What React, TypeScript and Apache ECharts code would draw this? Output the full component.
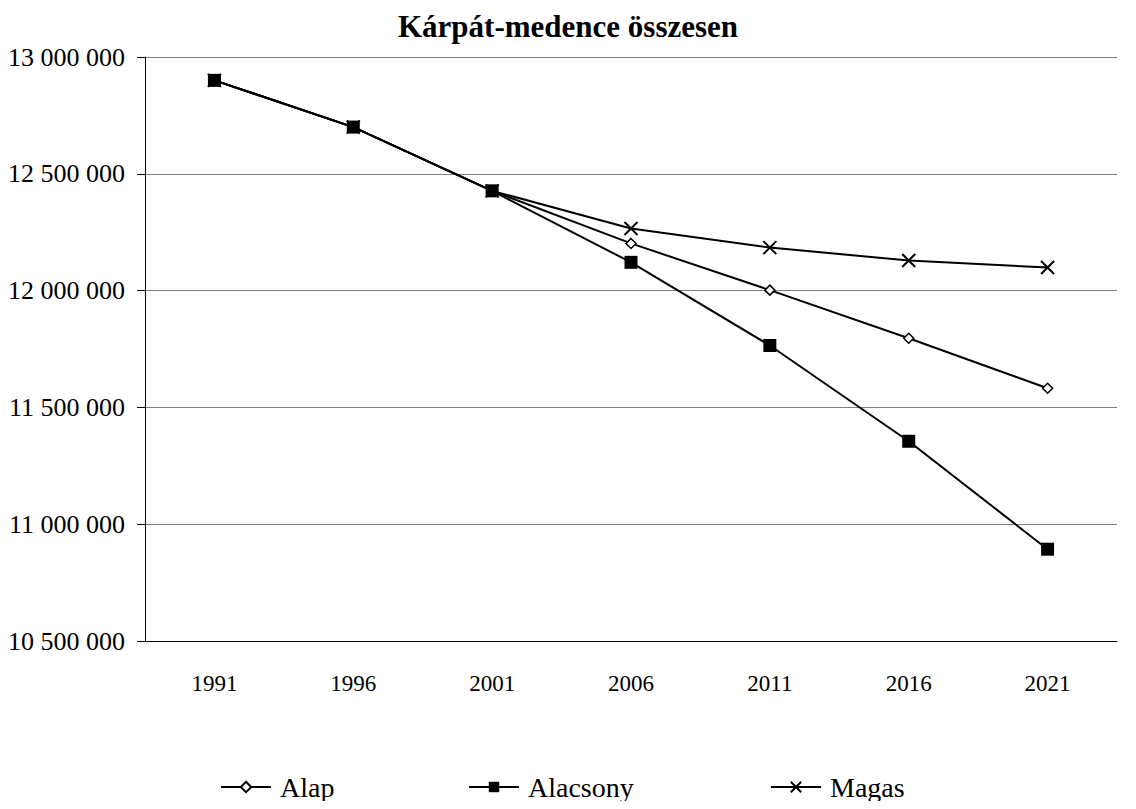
import React, { useEffect, useRef } from "react";
import * as echarts from "echarts";

const years = ["1991", "1996", "2001", "2006", "2011", "2016", "2021"];
const alap = [12900000, 12700000, 12427000, 12202000, 12002000, 11796000, 11582000];
const alacsony = [12900000, 12700000, 12427000, 12121000, 11765000, 11355000, 10893000];
const magas = [12900000, 12700000, 12427000, 12266000, 12184000, 12129000, 12099000];

const FONT = "'Liberation Serif', 'Times New Roman', serif";
const fmt = (v: number) => String(v).replace(/\B(?=(\d{3})+(?!\d))/g, " ");

const diamond = "path://M5,0L10,5L5,10L0,5Z";
const cross = "path://M0,0L10,10M10,0L0,10";

const mkLegend = (name: string, left: number) => ({
  data: [name],
  left,
  top: 768,
  itemWidth: 50,
  itemHeight: 13,
  itemGap: 6,
  textStyle: { fontFamily: FONT, fontSize: 28, color: "#000", padding: [0, 0, 0, 4] },
});

export default function App() {
  const ref = useRef<HTMLDivElement>(null);
  useEffect(() => {
    if (!ref.current) return;
    const chart = echarts.init(ref.current, undefined, { renderer: "svg" });
    chart.setOption({
      animation: false,
      backgroundColor: "#fff",
      textStyle: { fontFamily: FONT, color: "#000" },
      title: {
        text: "Kárpát-medence összesen",
        left: "center",
        top: 6,
        textStyle: { fontFamily: FONT, fontSize: 31, fontWeight: "bold", color: "#000" },
      },
      legend: [mkLegend("Alap", 215), mkLegend("Alacsony", 463), mkLegend("Magas", 765)],
      grid: { left: 145, right: 19, top: 57, bottom: 168 },
      xAxis: {
        type: "category",
        data: years,
        boundaryGap: true,
        axisLine: { lineStyle: { color: "#000", width: 1 } },
        axisTick: { length: 8, lineStyle: { color: "#000" } },
        axisLabel: { fontFamily: FONT, fontSize: 23, color: "#000", margin: 31 },
      },
      yAxis: {
        type: "value",
        min: 10500000,
        max: 13000000,
        interval: 500000,
        axisLine: { show: true, lineStyle: { color: "#000", width: 1 } },
        axisTick: { show: true, length: 8, lineStyle: { color: "#000" } },
        axisLabel: { fontFamily: FONT, fontSize: 26, color: "#000", margin: 20, formatter: fmt },
        splitLine: { lineStyle: { color: "#808080", width: 1 } },
      },
      series: [
        {
          name: "Alap",
          type: "line",
          data: alap,
          symbol: diamond,
          symbolSize: 10,
          lineStyle: { color: "#000", width: 2 },
          itemStyle: { color: "#fff", borderColor: "#000", borderWidth: 1.5 },
          z: 3,
        },
        {
          name: "Alacsony",
          type: "line",
          data: alacsony,
          symbol: "rect",
          symbolSize: 13,
          lineStyle: { color: "#000", width: 2 },
          itemStyle: { color: "#000", borderColor: "#000", borderWidth: 0 },
          z: 5,
        },
        {
          name: "Magas",
          type: "line",
          data: magas,
          symbol: cross,
          symbolSize: 13,
          lineStyle: { color: "#000", width: 2 },
          itemStyle: { color: "none", borderColor: "#000", borderWidth: 2 },
          z: 2,
        },
      ],
    });
    return () => chart.dispose();
  }, []);
  return <div ref={ref} style={{ width: 1136, height: 809, margin: -8 }} />;
}
